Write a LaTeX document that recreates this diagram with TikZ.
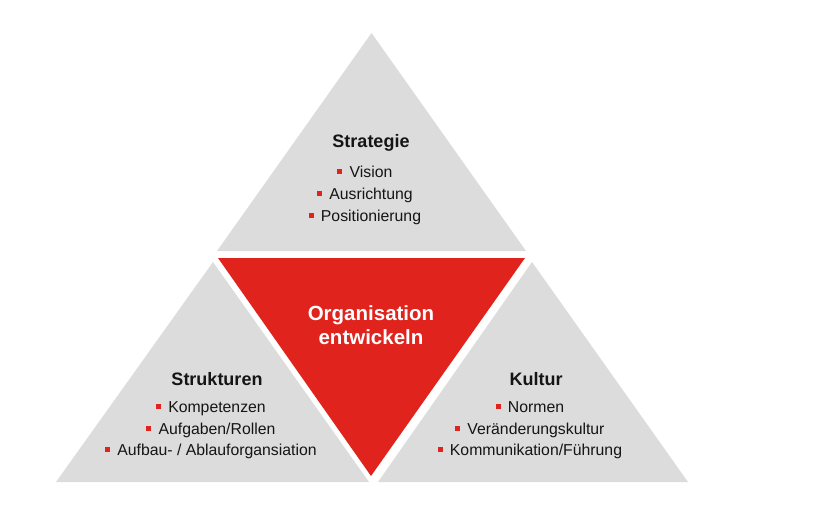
\documentclass[tikz,border=0pt]{standalone}
\usepackage{fontspec}
\setmainfont{Liberation Sans}
\definecolor{dreieckgrau}{HTML}{DCDCDC}
\definecolor{orgrot}{HTML}{E0231C}
\definecolor{schrift}{HTML}{151515}
\tikzset{
  titel/.style={anchor=base, inner sep=0pt, text=schrift, font=\fontsize{18}{20}\selectfont\bfseries},
  punkt/.style={anchor=base, inner sep=0pt, text=schrift, font=\fontsize{15.8}{18}\selectfont},
  quadrat/.style={fill=orgrot, minimum size=5pt, inner sep=0pt, anchor=east},
  mitte/.style={anchor=base, inner sep=0pt, text=white, font=\fontsize{20.5}{23}\selectfont\bfseries}
}

\begin{document}
\begin{tikzpicture}[x=1pt,y=-1pt]
    \useasboundingbox (0,0) rectangle (818,509);
    % die vier Dreiecke
    \fill[dreieckgrau] (217,251) -- (371.5,33) -- (526,251) -- cycle;
    \fill[dreieckgrau] (56,482) -- (213,262) -- (369,482) -- cycle;
    \fill[dreieckgrau] (378,482) -- (532,262) -- (688,482) -- cycle;
    \fill[orgrot] (218,258) -- (525,258) -- (371,476) -- cycle;

    % Mitte
    \node[mitte] (org) at (371,320) {Organisation};
    \node[mitte] (entw) at (371,344) {entwickeln};

    % oben
    \node[titel] (strategie) at (371,147.5) {Strategie};
    \node[punkt] (vision) at (371,177.5) {Vision};
    \node[punkt] (ausr) at (371,199.5) {Ausrichtung};
    \node[punkt] (pos) at (371,221) {Positionierung};
    \node[quadrat] at ([xshift=-7pt,yshift=6pt]vision.base west) {};
    \node[quadrat] at ([xshift=-7pt,yshift=6pt]ausr.base west) {};
    \node[quadrat] at ([xshift=-7pt,yshift=6pt]pos.base west) {};

    % links
    \node[titel] (strukturen) at (217,385) {Strukturen};
    \node[punkt] (komp) at (217,412.5) {Kompetenzen};
    \node[punkt] (aufg) at (217,434) {Aufgaben/Rollen};
    \node[punkt] (aufbau) at (217,455.5) {Aufbau- / Ablauforgansiation};
    \node[quadrat] at ([xshift=-7pt,yshift=6pt]komp.base west) {};
    \node[quadrat] at ([xshift=-7pt,yshift=6pt]aufg.base west) {};
    \node[quadrat] at ([xshift=-7pt,yshift=6pt]aufbau.base west) {};

    % rechts
    \node[titel] (kultur) at (536,385) {Kultur};
    \node[punkt] (normen) at (536,412.5) {Normen};
    \node[punkt] (veraend) at (536,434) {Veränderungskultur};
    \node[punkt] (komm) at (536,455.5) {Kommunikation/Führung};
    \node[quadrat] at ([xshift=-7pt,yshift=6pt]normen.base west) {};
    \node[quadrat] at ([xshift=-7pt,yshift=6pt]veraend.base west) {};
    \node[quadrat] at ([xshift=-7pt,yshift=6pt]komm.base west) {};
\end{tikzpicture}
\end{document}
